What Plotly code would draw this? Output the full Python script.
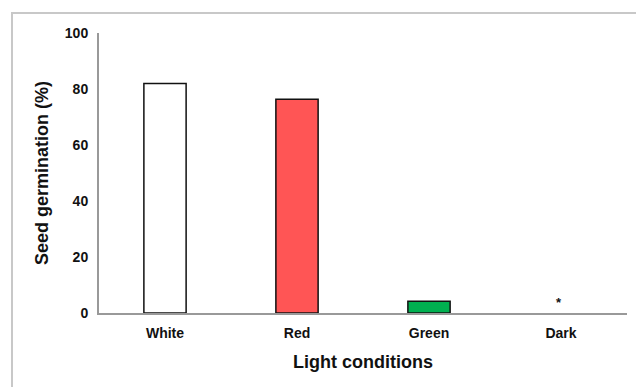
import plotly.graph_objects as go

categories = ["White", "Red", "Green", "Dark"]
germination = [82, 76.3, 4.2, 0]
bar_colors = ["#FFFFFF", "#FF5555", "#00B050", "#FFFFFF"]
sig_marks = ["", "", "", "*"]
y_ticks = [0, 20, 40, 60, 80, 100]

outline_w = [1.5 if v > 0 else 0 for v in germination]

fig = go.Figure()
fig.add_trace(go.Bar(
    x=categories, y=germination, width=0.32,
    marker=dict(color=bar_colors, line=dict(color="#111111", width=outline_w)),
    showlegend=False,
))

for c, v, m in zip(categories, germination, sig_marks):
    if m:
        fig.add_annotation(x=c, y=v, text="<b>" + m + "</b>", showarrow=False,
                           yshift=11, xshift=-2, font=dict(size=13, color="#111111"))

# page has an 8px body margin; figure occupies (8,8)-(644,387)
OFF = 8
W, H = 644 - OFF, 387 - OFF
L, R, T, B = 99 - OFF, 17, 33 - OFF, 74
pw, ph = W - L - R, H - T - B
fig.add_shape(type="rect", xref="paper", yref="paper",
              x0=(12 - 99) / pw, x1=(642 - 99) / pw,
              y0=(313 - 420) / ph, y1=(313 - 13) / ph,
              line=dict(color="#c8c8c8", width=2), layer="below")

fig.update_layout(
    width=W, height=H,
    margin=dict(l=L, r=R, t=T, b=B),
    plot_bgcolor="white", paper_bgcolor="white",
    font=dict(family="Liberation Sans, Arial, sans-serif", color="#111111"),
)
fig.update_xaxes(
    range=[-0.5, 3.5], showline=True, linecolor="#999999", linewidth=2,
    ticks="", showgrid=False, zeroline=False,
    tickmode="array", tickvals=categories,
    ticktext=["<b>" + c + "</b>" for c in categories],
    tickfont=dict(size=14), ticklabelstandoff=6,
    title=dict(text="<b>Light conditions</b>", font=dict(size=18), standoff=16),
)
fig.update_yaxes(
    range=[0, 100], showline=True, linecolor="#999999", linewidth=2,
    ticks="", showgrid=False, zeroline=False,
    tickmode="array", tickvals=y_ticks,
    ticktext=["<b>" + str(t) + "</b>" for t in y_ticks],
    tickfont=dict(size=14), ticklabelstandoff=6,
    title=dict(text="<b>Seed germination (%)</b>", font=dict(size=18), standoff=12),
)

fig.write_html("out.html")
